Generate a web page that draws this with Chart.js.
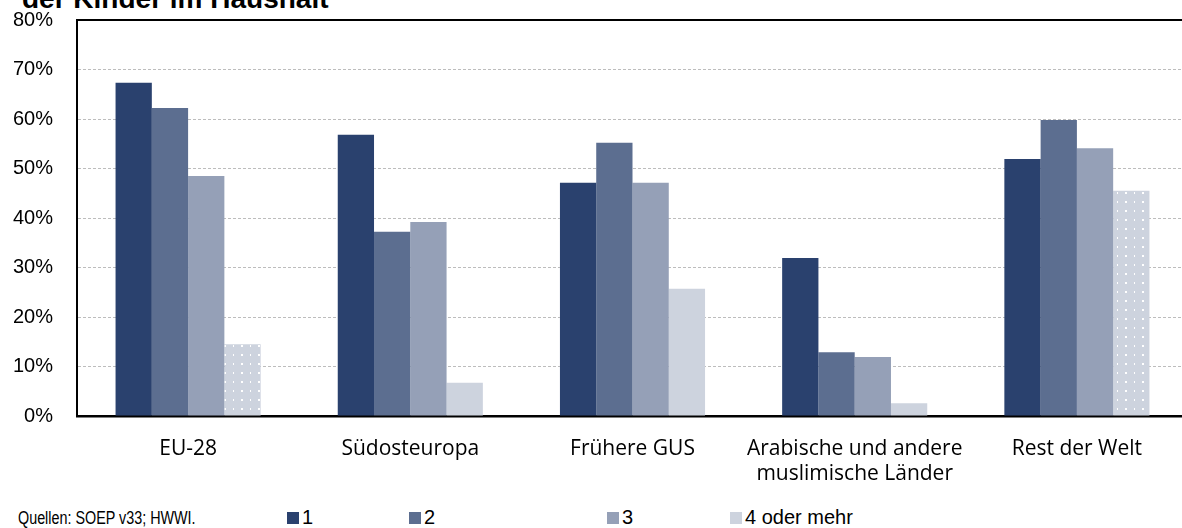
<!DOCTYPE html>
<html>
<head>
<meta charset="utf-8">
<script src="https://cdn.jsdelivr.net/npm/chart.js@4"></script>
<style>
  body { margin: 0; background: #fff; }
  #wrap { position: relative; width: 1182px; height: 528px; overflow: hidden; }
  #title { position: absolute; left: 22px; top: -15px; font: bold 28px "Liberation Sans", Arial, sans-serif; line-height: 28px; color: #000; white-space: nowrap; }
  #chartBox { position: absolute; left: 0; top: 0; width: 1200px; height: 480px; }
  #source { position: absolute; left: 18px; top: 508px; font: 17.5px "Liberation Sans", Arial, sans-serif; line-height: 20px; color: #000; transform: scaleX(0.82); transform-origin: left top; white-space: nowrap; }
  .leg { position: absolute; top: 505px; font: 20px "Liberation Sans", Arial, sans-serif; line-height: 24px; color: #000; white-space: nowrap; }
  .leg span { display: inline-block; width: 12px; height: 12px; margin-right: 3px; vertical-align: 0px; }
</style>
</head>
<body>
<div id="wrap">
  <div id="title">der Kinder im Haushalt</div>
  <div id="chartBox"><canvas id="myBarChart" width="1200" height="480"></canvas></div>
  <div id="source">Quellen: SOEP v33; HWWI.</div>
  <div id="legend"></div>
</div>
<script>
// regions of origin
const categories = ["EU-28", "Südosteuropa", "Frühere GUS", ["Arabische und andere", "muslimische Länder"], "Rest der Welt"];
const seriesNames = ["1", "2", "3", "4 oder mehr"];

// share in percent, by number of children in the household
const one = [67.3, 56.8, 47.1, 31.9, 51.9];
const two = [62.2, 37.2, 55.2, 12.9, 59.8];
const three = [48.5, 39.2, 47.1, 11.9, 54.1];
const fourPlus = [14.5, 6.7, 25.7, 2.6, 45.5];

const yTicks = [0, 10, 20, 30, 40, 50, 60, 70, 80];
const dottedBars = [true, false, false, false, true]; // 4+ bars with white dots

const colors = ['#2a416e', '#5c6e90', '#95a0b7', '#cdd3de'];

// white dot pattern for the light bars
function dotPattern() {
	var c = document.createElement('canvas');
	c.width = 17; c.height = 9;
	var p = c.getContext('2d');
	p.fillStyle = colors[3];
	p.fillRect(0, 0, 17, 9);
	p.fillStyle = '#ffffff';
	p.fillRect(3, 3, 2, 2);
	p.fillRect(12, 3, 1, 2);
	var ctx = document.createElement('canvas').getContext('2d');
	return ctx.createPattern(c, 'repeat');
}
const pattern = dotPattern();

// black frame line on top of the plot area
const topLine = {
	id: 'topLine',
	afterDraw(chart) {
		var a = chart.chartArea, ctx = chart.ctx;
		ctx.save();
		ctx.strokeStyle = '#000';
		ctx.lineWidth = 2;
		ctx.beginPath();
		ctx.moveTo(a.left - 1, a.top);
		ctx.lineTo(chart.width, a.top);
		ctx.stroke();
		ctx.restore();
	}
};

var data = {
	labels: categories,
	datasets: [
		{ label: seriesNames[0], data: one, backgroundColor: colors[0] },
		{ label: seriesNames[1], data: two, backgroundColor: colors[1] },
		{ label: seriesNames[2], data: three, backgroundColor: colors[2] },
		{ label: seriesNames[3], data: fourPlus, backgroundColor: dottedBars.map(d => d ? pattern : colors[3]) }
	]
};

const config = {
	type: 'bar',
	data: data,
	options: {
		responsive: false,
		animation: false,
		layout: { padding: { top: 0, right: 12, left: 0, bottom: 0 } },
		datasets: { bar: { categoryPercentage: 0.653, barPercentage: 1.0, borderWidth: 0 } },
		plugins: { legend: { display: false }, tooltip: { enabled: false } },
		scales: {
			x: {
				grid: { display: false },
				border: { display: true, color: '#000', width: 2.5 },
				ticks: { color: '#000', padding: 12, font: { family: 'Open Sans', size: 21 }, maxRotation: 0, autoSkip: false },
				afterFit(scale) { scale.height = 64; }
			},
			y: {
				min: 0,
				max: 80,
				afterBuildTicks(scale) { scale.ticks = yTicks.map(v => ({ value: v })); },
				grid: { color: '#bdbdbd', lineWidth: 1, drawTicks: true, tickLength: 16, tickColor: 'rgba(0,0,0,0)' },
				border: { display: true, color: '#000', width: 2, dash: [3, 2] },
				ticks: {
					color: '#000',
					padding: 8,
					font: { family: 'Liberation Sans', size: 20 },
					callback: v => v + '%'
				},
				afterFit(scale) { scale.width = 77; }
			}
		}
	},
	plugins: [topLine]
};

document.addEventListener("DOMContentLoaded", function () {
	var ctx = document.getElementById('myBarChart').getContext('2d');
	var myBarChart = new Chart(ctx, config);

	// legend below the chart
	var legendX = [287, 409, 607, 730];
	var legend = document.getElementById('legend');
	seriesNames.forEach(function (name, i) {
		var d = document.createElement('div');
		d.className = 'leg';
		d.style.left = legendX[i] + 'px';
		d.innerHTML = '<span style="background:' + colors[i] + '"></span>' + name;
		legend.appendChild(d);
	});
});
</script>
</body>
</html>
